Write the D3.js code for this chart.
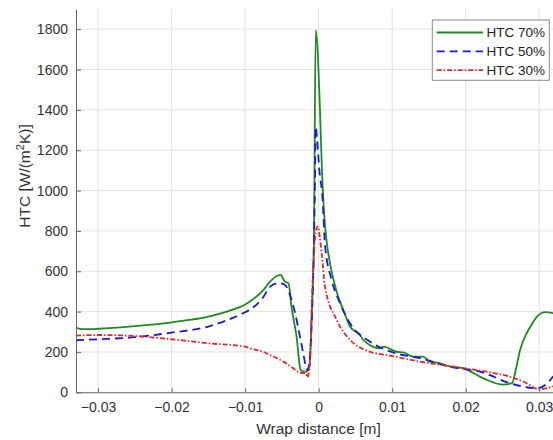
<!DOCTYPE html>
<html lang="en">
<head>
  <meta charset="UTF-8">
  <title>HTC vs wrap distance</title>
  <style>
    body { margin: 0; background: #fff; }
    text { font-family: "Liberation Sans", Arial, Helvetica, sans-serif; }
  </style>
</head>
<body>
  <script src="https://d3js.org/d3.v7.min.js"></script>
  <div id="chart"></div>

  <script>
    // values
    const xTicks = [-0.03, -0.02, -0.01, 0, 0.01, 0.02, 0.03]
    const yTicks = [0, 200, 400, 600, 800, 1000, 1200, 1400, 1600, 1800]
    const seriesNames = ['HTC 70%', 'HTC 50%', 'HTC 30%']

    const htc70_x = [-0.033, -0.032, -0.03, -0.025, -0.02, -0.015, -0.0125, -0.01, -0.00935, -0.0075,
      -0.0066, -0.0052, -0.0046, -0.0041, -0.0037, -0.003, -0.00245, -0.002, -0.00163, -0.00128,
      -0.00105, -0.00082, -0.00064, -0.0004, 0.00018, 0.0004, 0.00072, 0.00109, 0.00154, 0.00245,
      0.00335, 0.00426, 0.00562, 0.00607, 0.00834, 0.0088, 0.0106, 0.0115, 0.01287, 0.0142,
      0.0151, 0.0161, 0.0176, 0.0197, 0.0224, 0.0251, 0.0263, 0.0269, 0.0274, 0.0283,
      0.0288, 0.0297, 0.0308, 0.0319]
    const htc70_y = [320, 313, 315, 328, 347, 375, 400, 435, 450, 508,
      549, 582, 549, 541, 425, 276, 111, 102, 102, 127,
      260, 508, 756, 1795, 1400, 1150, 900, 747, 640, 499,
      408, 326, 284, 260, 218, 226, 201, 198, 177, 177,
      152, 147, 130, 119, 69, 38, 45, 127, 210, 293,
      326, 375, 397, 392]

    const htc50_x = [-0.033, -0.03, -0.025, -0.02, -0.015, -0.01, -0.0094, -0.0075, -0.0066, -0.0055,
      -0.0046, -0.0039, -0.0032, -0.00254, -0.0021, -0.00173, -0.00155, -0.00128, -0.00095, -0.00073,
      -0.0005, -0.0004, -0.0002, 0.0001, 0.00054, 0.00086, 0.00177, 0.0029, 0.00426, 0.00698,
      0.01015, 0.01378, 0.01786, 0.0224, 0.026, 0.0297, 0.0315, 0.0319]
    const htc50_y = [258, 263, 273, 296, 326, 397, 408, 474, 524, 541,
      533, 483, 392, 276, 194, 127, 110, 144, 342, 590,
      1050, 1315, 1250, 1100, 955, 731, 557, 442, 342, 251,
      197, 169, 127, 97, 45, 20, 61, 80]

    const htc30_x = [-0.033, -0.03, -0.025, -0.02, -0.015, -0.01, -0.00935, -0.0075, -0.00663, -0.0048,
      -0.00346, -0.00254, -0.00173, -0.00155, -0.00118, -0.00095, -0.00073, -0.0004, -0.00014, 0.0004,
      0.00086, 0.00245, 0.00426, 0.0063, 0.00993, 0.01378, 0.01831, 0.02286, 0.026, 0.0283,
      0.0299, 0.0319]
    const htc30_y = [281, 284, 279, 263, 243, 226, 218, 200, 185, 152,
      119, 97, 94, 74, 144, 425, 623, 790, 822, 690,
      524, 359, 260, 210, 180, 152, 127, 102, 77, 45,
      15, 30]

    const series = [
      { name: seriesNames[0], xs: htc70_x, ys: htc70_y, color: '#1f8a1f', dash: null },
      { name: seriesNames[1], xs: htc50_x, ys: htc50_y, color: '#1a1ad6', dash: '8,5' },
      { name: seriesNames[2], xs: htc30_x, ys: htc30_y, color: '#e3262a', dash: '5,2,1.5,2' }
    ]

    //=====================================================================================
    const W = 553, H = 440
    const plotL = 76, plotT = 9, plotB = 392.3, plotR = 561.3

    const svg = d3.select('#chart')
      .append('svg')
      .attr('width', W)
      .attr('height', H)

    const x = d3.scaleLinear().domain([-0.033, 0.033]).range([plotL, plotR])
    const y = d3.scaleLinear().domain([0, 1900]).range([plotB, plotT])

    // grid
    const grid = svg.append('g')
    grid.selectAll('.gx')
      .data(xTicks)
      .join('line')
      .attr('x1', d => x(d)).attr('x2', d => x(d))
      .attr('y1', plotT).attr('y2', plotB)
      .attr('stroke', '#e3e3e3')
    grid.selectAll('.gy')
      .data(yTicks)
      .join('line')
      .attr('x1', plotL).attr('x2', W)
      .attr('y1', d => y(d)).attr('y2', d => y(d))
      .attr('stroke', '#e3e3e3')

    svg.append('clipPath').attr('id', 'plotclip')
      .append('rect')
      .attr('x', plotL).attr('y', plotT)
      .attr('width', plotR - plotL).attr('height', plotB - plotT)

    const line = d3.line()
      .x(d => x(d[0]))
      .y(d => y(d[1]))
      .curve(d3.curveMonotoneX)

    svg.append('g')
      .attr('clip-path', 'url(#plotclip)')
      .selectAll('path')
      .data(series)
      .join('path')
      .attr('d', s => line(d3.zip(s.xs, s.ys)))
      .attr('fill', 'none')
      .attr('stroke', s => s.color)
      .attr('stroke-width', 1.8)
      .attr('stroke-dasharray', s => s.dash)

    // axes, ticks pointing inward
    const fmtX = d => d === 0 ? '0' : d3.format('.2f')(d)
    const xAxis = svg.append('g')
      .attr('transform', `translate(0, ${plotB})`)
      .call(d3.axisBottom(x).tickValues(xTicks).tickFormat(fmtX)
        .tickSizeInner(-4).tickSizeOuter(0).tickPadding(10))
    const yAxis = svg.append('g')
      .attr('transform', `translate(${plotL}, 0)`)
      .call(d3.axisLeft(y).tickValues(yTicks).tickFormat(d3.format('d'))
        .tickSizeInner(-5).tickSizeOuter(0).tickPadding(8))

    for (const ax of [xAxis, yAxis]) {
      ax.select('.domain').attr('stroke', '#666')
      ax.selectAll('.tick line').attr('stroke', '#666')
      ax.selectAll('.tick text')
        .attr('fill', '#333')
        .style('font-size', '14px')
        .style('font-family', '"Liberation Sans", Arial, sans-serif')
    }

    // axis labels
    svg.append('text')
      .attr('x', 318.5)
      .attr('y', 434)
      .attr('text-anchor', 'middle')
      .attr('fill', '#333')
      .style('font-size', '15.5px')
      .text('Wrap distance [m]')

    const yl = svg.append('text')
      .attr('transform', 'translate(30, 176) rotate(-90)')
      .attr('text-anchor', 'middle')
      .attr('fill', '#333')
      .style('font-size', '15.5px')
    yl.append('tspan').text('HTC [W/(m')
    yl.append('tspan').attr('dy', -6).style('font-size', '11px').text('2')
    yl.append('tspan').attr('dy', 6).text('K)]')

    // legend
    const lg = svg.append('g')
    lg.append('rect')
      .attr('x', 432.3).attr('y', 20)
      .attr('width', 117).attr('height', 60.3)
      .attr('fill', '#fff')
      .attr('stroke', '#8a8a8a')
    const rows = lg.selectAll('.row')
      .data(series)
      .join('g')
      .attr('transform', (d, i) => `translate(0, ${32.5 + i * 18.8})`)
    rows.append('line')
      .attr('x1', 436.7).attr('x2', 483)
      .attr('stroke', d => d.color)
      .attr('stroke-width', 1.8)
      .attr('stroke-dasharray', d => d.dash)
    rows.append('text')
      .attr('x', 486.5)
      .attr('dy', '0.35em')
      .attr('fill', '#222')
      .style('font-size', '13.5px')
      .text(d => d.name)
  </script>
</body>
</html>
